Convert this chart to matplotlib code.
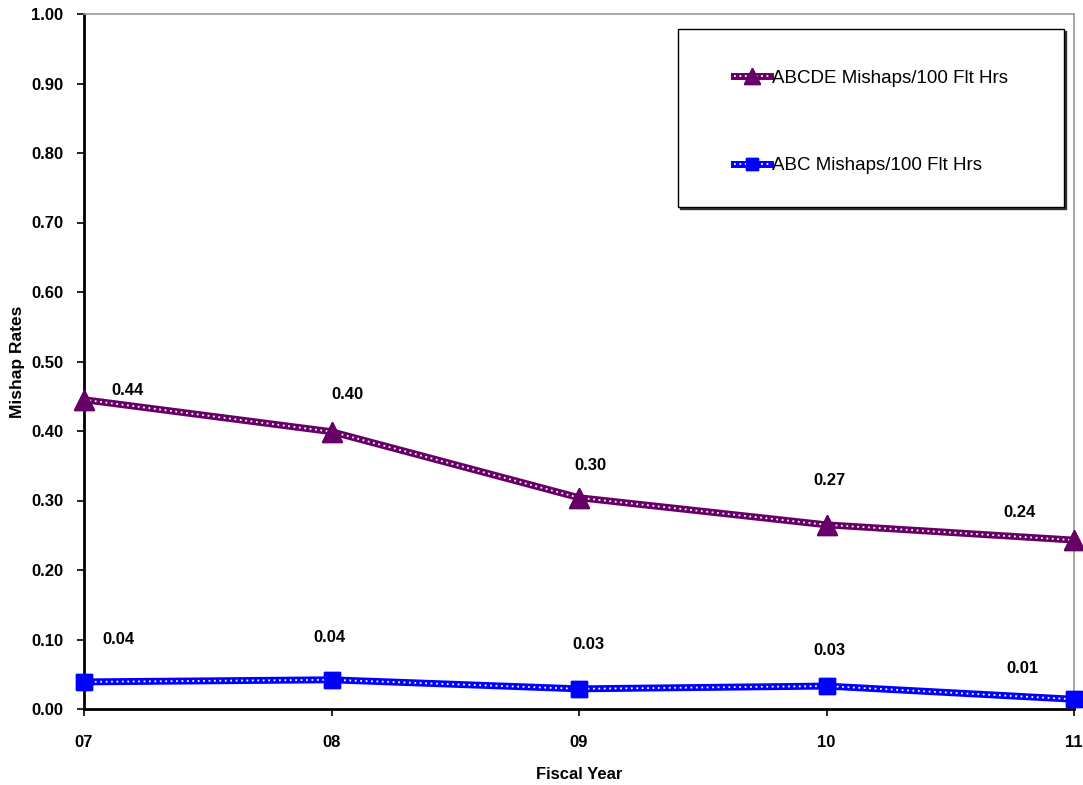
import matplotlib
matplotlib.use("Agg")
import matplotlib.pyplot as plt
from matplotlib.patches import Rectangle
import matplotlib.transforms as mtransforms

plt.rcParams['font.family'] = ['Liberation Sans', 'DejaVu Sans']

years = ['07', '08', '09', '10', '11']
abcde_rates = [0.445, 0.399, 0.304, 0.265, 0.243]
abc_rates = [0.039, 0.042, 0.029, 0.033, 0.014]
abcde_text = ['0.44', '0.40', '0.30', '0.27', '0.24']
abc_text = ['0.04', '0.04', '0.03', '0.03', '0.01']

# label offsets in pixels (hand placed in the original)
abcde_offsets = [(43, 9), (16, 37), (11, 32), (3, 44), (-54, 28)]
abc_offsets = [(34, 42), (-2, 42), (9, 44), (3, 36), (-52, 31)]

purple = '#660066'
blue = '#0000ff'

fig = plt.figure(figsize=(10.83, 7.85), dpi=100)
ax = fig.add_axes([84 / 1083, 76 / 785, 990 / 1083, 695 / 785])

x = list(range(len(years)))


def dotted_line(xs, ys, color, marker, ms):
    base, = ax.plot(xs, ys, color=color, lw=5, marker=marker, ms=ms,
                    markeredgecolor=color, clip_on=False, zorder=5)
    dots, = ax.plot(xs, ys, color='white', lw=1.3, ls=(0, (1, 2.0)),
                    clip_on=False, zorder=6)
    marks, = ax.plot(xs, ys, ls='none', marker=marker, ms=ms, color=color,
                     clip_on=False, zorder=7)
    return (base, dots, marks)


h1 = dotted_line(x, abcde_rates, purple, '^', 15)
h2 = dotted_line(x, abc_rates, blue, 's', 12)

for xi, yi, t, off in zip(x, abcde_rates, abcde_text, abcde_offsets):
    ax.annotate(t, (xi, yi), xytext=(off[0] * 0.72, off[1] * 0.72),
                textcoords='offset points', ha='center', va='center',
                fontsize=12, fontweight='bold')
for xi, yi, t, off in zip(x, abc_rates, abc_text, abc_offsets):
    ax.annotate(t, (xi, yi), xytext=(off[0] * 0.72, off[1] * 0.72),
                textcoords='offset points', ha='center', va='center',
                fontsize=12, fontweight='bold')

ax.set_xlim(0, len(years) - 1)
ax.set_ylim(0, 1.0)
ax.set_xticks(x)
ax.set_xticklabels(years)
ax.set_yticks([i / 10 for i in range(11)])
ax.set_yticklabels(['%.2f' % (i / 10) for i in range(11)])
for lab in ax.get_xticklabels() + ax.get_yticklabels():
    lab.set_fontweight('bold')
ax.tick_params(axis='y', direction='out', length=5, width=1.2, pad=10, labelsize=12)
ax.tick_params(axis='x', direction='out', length=5, width=1.2, pad=14, labelsize=12)

ax.spines['left'].set_linewidth(2)
ax.spines['bottom'].set_linewidth(2)
ax.spines['top'].set_color('#999999')
ax.spines['right'].set_color('#999999')
ax.spines['top'].set_linewidth(1.2)
ax.spines['right'].set_linewidth(1.2)

ax.set_xlabel('Fiscal Year', fontsize=12, fontweight='bold', labelpad=12)
ax.set_ylabel('Mishap Rates', fontsize=12.5, fontweight='bold', labelpad=4)

# legend box with shadow
bx0, by0 = (678 - 84) / 990, (709 - 207) / 695
bw, bh = (1064 - 678) / 990, (207 - 29) / 695
shadow_tr = mtransforms.offset_copy(ax.transAxes, fig=fig, x=2, y=-2, units='dots')
ax.add_patch(Rectangle((bx0, by0), bw, bh, transform=shadow_tr, facecolor='#333333',
                       edgecolor='#333333', lw=1, zorder=8))
ax.add_patch(Rectangle((bx0, by0), bw, bh, transform=ax.transAxes, facecolor='white',
                       edgecolor='black', lw=1, zorder=9))

leg = ax.legend([h1, h2], ['ABCDE Mishaps/100 Flt Hrs', 'ABC Mishaps/100 Flt Hrs'],
                loc='center', bbox_to_anchor=(bx0 + bw / 2, by0 + bh / 2 - 4 / 695),
                frameon=False, fontsize=13.5, handlelength=1.9, handletextpad=0.1,
                labelspacing=3.75, markerscale=0.75)
leg.set_zorder(10)

fig.savefig('out.png', dpi=100)
